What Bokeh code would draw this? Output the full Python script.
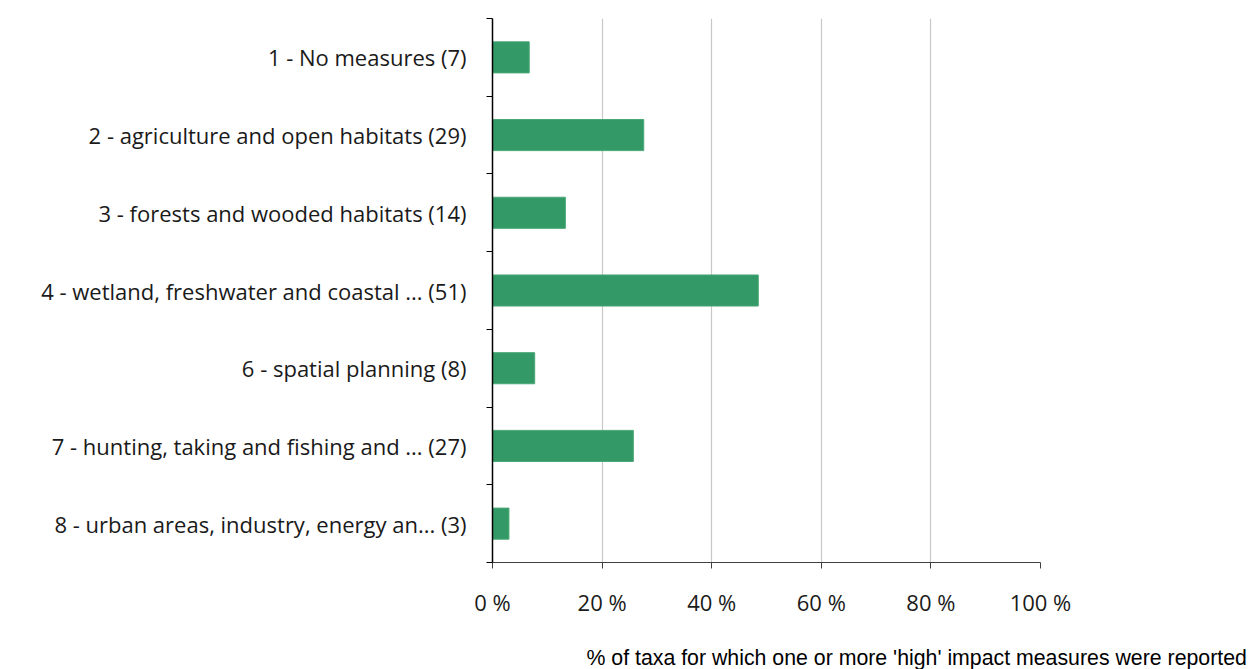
from bokeh.plotting import figure
from bokeh.models import Range1d, FixedTicker, PrintfTickFormatter, Title
from bokeh.embed import file_html
from bokeh.resources import INLINE

categories = [
    "1 - No measures (7)",
    "2 - agriculture and open habitats (29)",
    "3 - forests and wooded habitats (14)",
    "4 - wetland, freshwater and coastal ... (51)",
    "6 - spatial planning (8)",
    "7 - hunting, taking and fishing and ... (27)",
    "8 - urban areas, industry, energy an... (3)",
]
values = [6.7, 27.6, 13.3, 48.5, 7.7, 25.7, 3.0]
x_ticks = [0, 20, 40, 60, 80, 100]
x_title = "% of taxa for which one or more 'high' impact measures were reported"

n = len(categories)
centers = [n - i - 0.5 for i in range(n)]
bounds = list(range(n + 1))

p = figure(width=1248, height=669, output_backend="svg", toolbar_location=None,
           x_range=Range1d(0, 100), y_range=Range1d(0, n),
           min_border_left=492, min_border_right=208, min_border_top=18, min_border_bottom=106)
p.outline_line_color = None
p.background_fill_color = "white"

p.hbar(y=centers, right=values, left=0, height=0.4, fill_color="#339966", line_color="#4aa877", line_width=1)

# y axis
ya = p.yaxis[0]
ya.ticker = FixedTicker(ticks=centers, minor_ticks=bounds)
ya.major_label_overrides = {c: lab for c, lab in zip(centers, categories)}
ya.major_tick_line_color = None
ya.minor_tick_line_color = "black"
ya.minor_tick_out = 6
ya.minor_tick_in = 0
ya.axis_line_color = "black"
ya.axis_line_width = 1.5
ya.major_label_standoff = 20
ya.major_label_text_font = "Open Sans"
ya.major_label_text_font_size = "22px"
ya.major_label_text_color = "#1a1a1a"

# x axis
xa = p.xaxis[0]
xa.ticker = FixedTicker(ticks=x_ticks, minor_ticks=[])
xa.formatter = PrintfTickFormatter(format="%d %%")
xa.major_tick_out = 6
xa.major_tick_in = 0
xa.major_tick_line_color = "#404040"
xa.axis_line_color = "#404040"
xa.axis_line_width = 1.2
xa.major_label_standoff = 18
xa.major_label_text_font = "Open Sans"
xa.major_label_text_font_size = "22px"
xa.major_label_text_color = "#1a1a1a"

p.ygrid.grid_line_color = None
p.xgrid.grid_line_color = "#c8c8c8"
p.xgrid.grid_line_width = 1.2

p.add_layout(Title(text=x_title, align="left", offset=94, standoff=0,
                   padding=dict(top=24, bottom=0, left=0, right=0),
                   text_font="Liberation Sans",
                   text_font_size="21.3px", text_font_style="normal", text_color="black"), "below")

open("out.html", "w").write(file_html(p, INLINE))
